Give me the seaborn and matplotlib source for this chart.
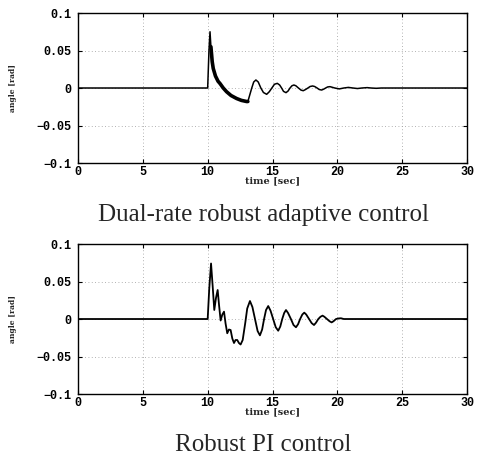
import matplotlib
matplotlib.use('Agg')
import matplotlib.pyplot as plt
import seaborn as sns
import pandas as pd

# Dual-rate robust adaptive control response (time [sec], angle [rad])
adaptive_t = [0.0, 10.0, 10.1, 10.18, 10.25, 10.35, 10.43, 10.6, 10.8, 10.95, 11.2, 11.46,
              11.8, 12.23, 12.6, 13.0, 13.1, 13.2, 13.4, 13.55, 13.72, 13.9, 14.1, 14.3,
              14.55, 14.75, 14.95, 15.15, 15.37, 15.55, 15.7, 15.85, 16.04, 16.2, 16.35,
              16.5, 16.65, 16.8, 17.0, 17.2, 17.37, 17.55, 17.73, 17.9, 18.09, 18.25,
              18.44, 18.6, 18.79, 18.95, 19.1, 19.25, 19.43, 19.6, 19.8, 20.15, 20.5,
              20.85, 21.2, 21.55, 21.9, 22.3, 22.6, 23.0, 23.4, 30.0]
adaptive_v = [0.0, 0.0, 0.05, 0.075, 0.055, 0.035, 0.026, 0.016, 0.009, 0.006, 0.0, -0.005,
              -0.01, -0.014, -0.0165, -0.018, -0.018, -0.012, 0.0, 0.008, 0.0107, 0.008, 0.0, -0.006,
              -0.0084, -0.005, 0.0, 0.005, 0.0062, 0.004, 0.0, -0.0045, -0.0062, -0.004, 0.0,
              0.003, 0.004, 0.003, 0.0, -0.0028, -0.0036, -0.002, 0.0, 0.002, 0.0027, 0.002,
              0.0, -0.002, -0.0027, -0.0015, 0.0, 0.0014, 0.0018, 0.001, 0.0, -0.0012, 0.0,
              0.0008, 0.0, -0.0007, 0.0, 0.0005, 0.0, -0.0004, 0.0, 0.0]
# section with high-frequency ripple (drawn thick)
ripple_start, ripple_end = 10.25, 13.1

# Robust PI control response
pi_t = [0.0, 10.0, 10.12, 10.26, 10.38, 10.51, 10.64, 10.77, 10.88, 11.0, 11.13, 11.26,
        11.38, 11.51, 11.64, 11.77, 11.9, 12.03, 12.15, 12.28, 12.41, 12.54, 12.7, 12.9,
        13.05, 13.26, 13.45, 13.65, 13.85, 14.03, 14.2, 14.35, 14.5, 14.67, 14.85, 15.05,
        15.25, 15.44, 15.6, 15.75, 15.9, 16.04, 16.2, 16.42, 16.62, 16.81, 16.97, 17.13,
        17.3, 17.45, 17.6, 17.82, 18.02, 18.2, 18.35, 18.53, 18.7, 18.86, 19.0, 19.2,
        19.4, 19.56, 19.7, 19.9, 20.1, 20.28, 20.5, 30.0]
pi_v = [0.0, 0.0, 0.04, 0.074, 0.045, 0.012, 0.028, 0.0387, 0.018, -0.002, 0.006, 0.0098,
        -0.006, -0.019, -0.014, -0.0147, -0.026, -0.032, -0.028, -0.028, -0.032, -0.034, -0.028, -0.005,
        0.014, 0.024, 0.016, 0.0, -0.016, -0.0218, -0.014, 0.0, 0.012, 0.0173, 0.011, 0.0,
        -0.011, -0.0156, -0.01, 0.0, 0.008, 0.012, 0.008, 0.0, -0.008, -0.011, -0.007, 0.0,
        0.006, 0.0085, 0.006, 0.0, -0.0055, -0.008, -0.005, 0.0, 0.003, 0.0045, 0.003, 0.0,
        -0.003, -0.0045, -0.003, 0.0, 0.0008, 0.001, 0.0, 0.0]

x_ticks = [0, 5, 10, 15, 20, 25, 30]
y_ticks = [-0.1, -0.05, 0, 0.05, 0.1]
y_tick_labels = ['\u22120.1', '\u22120.05', '0', '0.05', '0.1']
captions = ['Dual-rate robust adaptive control', 'Robust PI control']

sns.set_theme(style='ticks')
plt.rcParams['font.family'] = ['DejaVu Serif']

fig = plt.figure(figsize=(4.78, 4.61), dpi=100)
ax_top = fig.add_axes([0.1632, 0.6464, 0.8138, 0.3254])
ax_bot = fig.add_axes([0.1632, 0.1453, 0.8138, 0.3254])

adaptiveDf = pd.DataFrame({'time': adaptive_t, 'angle': adaptive_v})
piDf = pd.DataFrame({'time': pi_t, 'angle': pi_v})

sns.lineplot(data=adaptiveDf, x='time', y='angle', ax=ax_top, color='black', lw=1.1,
             estimator=None, sort=False)
rippleDf = adaptiveDf[(adaptiveDf['time'] >= ripple_start) & (adaptiveDf['time'] <= ripple_end)]
sns.lineplot(data=rippleDf, x='time', y='angle', ax=ax_top, color='black', lw=2.6,
             estimator=None, sort=False)
sns.lineplot(data=piDf, x='time', y='angle', ax=ax_bot, color='black', lw=1.3,
             estimator=None, sort=False)

tick_font = dict(family='Liberation Mono', weight='bold', size=8.5)
for ax in (ax_top, ax_bot):
    ax.set_xlim(0, 30)
    ax.set_ylim(-0.1, 0.1)
    ax.set_xticks(x_ticks)
    ax.set_xticklabels([str(v) for v in x_ticks], fontdict=tick_font)
    ax.set_yticks(y_ticks)
    ax.set_yticklabels(y_tick_labels, fontdict=tick_font)
    ax.tick_params(direction='in', length=3, width=0.8, top=True, right=True,
                   pad=2, colors='black')
    ax.tick_params(axis='y', pad=5)
    ax.grid(True, linestyle=(0, (1, 3)), color='#999999', lw=0.6)
    for s in ax.spines.values():
        s.set_color('black')
        s.set_linewidth(1.0)
    ax.set_xlabel('time [sec]', family='DejaVu Serif', weight='bold', size=7, labelpad=-1)
    ax.set_ylabel('angle [rad]', family='DejaVu Serif', weight='bold', size=5.5, labelpad=14)

fig.text(0.551, 1 - 215 / 461, captions[0], ha='center', va='center',
         family='Liberation Serif', size=18)
fig.text(0.551, 1 - 445 / 461, captions[1], ha='center', va='center',
         family='Liberation Serif', size=18)

fig.savefig('out.png', dpi=100, facecolor='white')
